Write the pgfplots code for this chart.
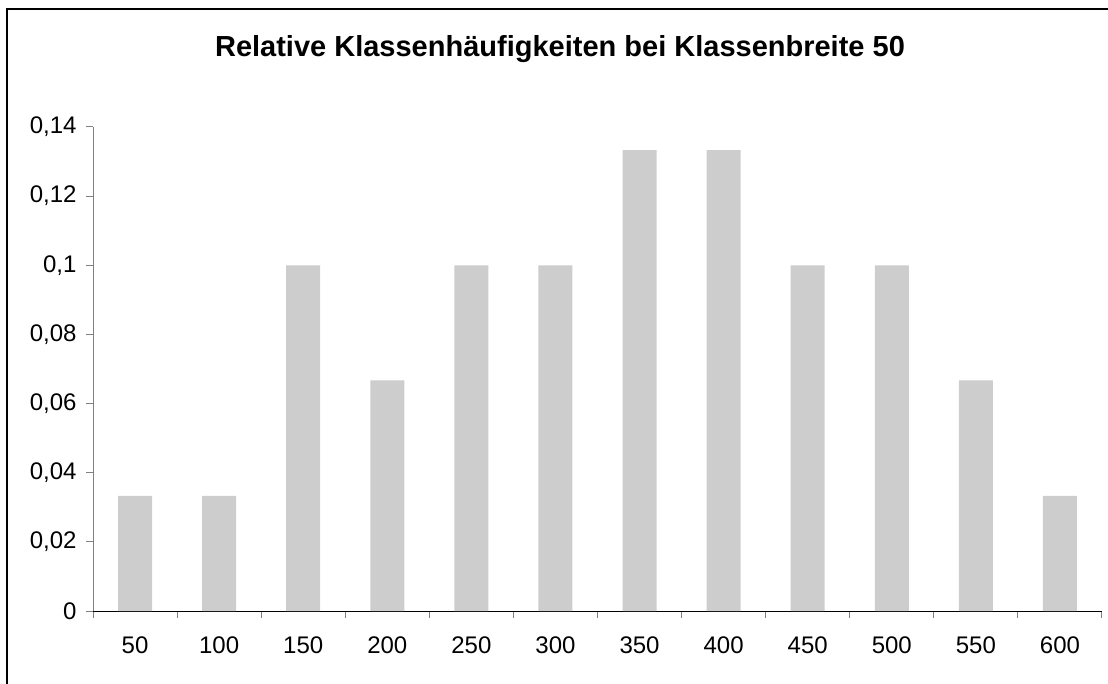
\documentclass[border=0pt]{standalone}
\usepackage{fontspec}
\setmainfont{Liberation Sans}
\usepackage{pgfplots}
\pgfplotsset{compat=1.18}
\definecolor{barfill}{HTML}{CDCDCD}
\definecolor{axgray}{HTML}{808080}

\begin{document}
\begin{tikzpicture}
\path[use as bounding box] (0pt,0pt) rectangle (1108pt,-684pt);
\draw[line width=2pt] (7pt,-684pt) -- (7pt,-9pt) -- (1108pt,-9pt);
\node[font=\fontsize{29}{34}\selectfont\bfseries] at (560pt,-49pt) {Relative Klassenhäufigkeiten bei Klassenbreite 50};
\begin{axis}[
    at={(93pt,-611pt)}, anchor=south west,
    scale only axis,
    width=1009pt, height=484pt,
    xmin=0.5, xmax=12.5,
    ymin=0, ymax=0.14,
    axis x line=bottom, axis y line=left,
    axis line style={-},
    x axis line style={black, line width=1pt},
    y axis line style={axgray, line width=1pt},
    xtick={1,...,12},
    xticklabels={50,100,150,200,250,300,350,400,450,500,550,600},
    major x tick style={draw=none},
    minor xtick={0.5,1.5,...,12.5},
    minor x tick style={axgray, line width=1pt},
    minor tick length=7pt,
    ytick={0,0.02,...,0.14},
    y tick style={axgray, line width=1pt},
    major tick length=7pt,
    tick align=outside,
    /pgf/number format/fixed,
    /pgf/number format/precision=2,
    /pgf/number format/use comma,
    /pgf/number format/assume math mode=true,
    tick label style={font=\fontsize{24}{28}\selectfont},
    xticklabel style={yshift=-15pt},
    yticklabel style={xshift=-6pt},
    ybar, bar width=34pt,
]
\addplot[fill=barfill, draw=none] coordinates {
    (1,0.0333) (2,0.0333) (3,0.1) (4,0.0667) (5,0.1) (6,0.1)
    (7,0.1333) (8,0.1333) (9,0.1) (10,0.1) (11,0.0667) (12,0.0333)
};
\end{axis}
\end{tikzpicture}
\end{document}
